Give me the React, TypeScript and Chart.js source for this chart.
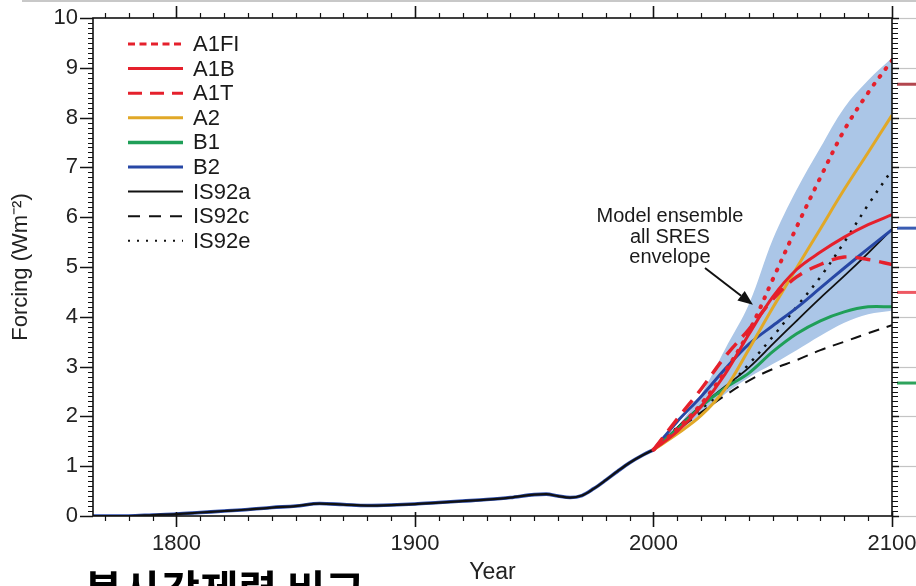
import React, { useEffect, useRef } from "react";
import { Chart, registerables } from "chart.js";

Chart.register(...registerables);

// ---------- data ----------
const histYears = [1765, 1780, 1790, 1800, 1810, 1820, 1830, 1840, 1850, 1860, 1870, 1880, 1890, 1900, 1910, 1920, 1930, 1940, 1950, 1955, 1960, 1965, 1970, 1975, 1980, 1985, 1990, 1995, 2000];
const histValues = [0.0, 0.0, 0.02, 0.04, 0.07, 0.1, 0.13, 0.17, 0.2, 0.25, 0.23, 0.21, 0.22, 0.24, 0.27, 0.3, 0.33, 0.37, 0.43, 0.44, 0.4, 0.37, 0.41, 0.55, 0.72, 0.9, 1.07, 1.21, 1.33];

const futureYears = [2000, 2010, 2020, 2030, 2040, 2050, 2060, 2070, 2080, 2090, 2100];
const a1fi = [1.33, 1.75, 2.25, 2.9, 3.7, 4.75, 5.8, 6.8, 7.75, 8.5, 9.15];
const a1b = [1.33, 1.7, 2.2, 2.85, 3.65, 4.4, 4.95, 5.3, 5.6, 5.85, 6.05];
const a1t = [1.33, 1.95, 2.55, 3.2, 3.75, 4.35, 4.8, 5.05, 5.2, 5.15, 5.05];
const a2 = [1.33, 1.65, 2.02, 2.55, 3.35, 4.18, 4.98, 5.77, 6.56, 7.3, 8.05];
const b1 = [1.33, 1.75, 2.2, 2.57, 2.87, 3.3, 3.66, 3.92, 4.1, 4.2, 4.2];
const b2 = [1.33, 1.9, 2.4, 2.95, 3.45, 3.82, 4.18, 4.58, 4.98, 5.37, 5.75];
const is92a = [1.33, 1.78, 2.22, 2.6, 2.98, 3.45, 3.92, 4.38, 4.82, 5.28, 5.76];
const is92c = [1.33, 1.72, 2.08, 2.42, 2.72, 2.95, 3.13, 3.33, 3.5, 3.67, 3.83];
const is92e = [1.33, 1.78, 2.15, 2.55, 3.05, 3.6, 4.2, 4.8, 5.5, 6.25, 6.95];
const envelopeUpper = [1.33, 1.8, 2.45, 3.35, 4.25, 5.55, 6.55, 7.4, 8.2, 8.75, 9.2];
const envelopeLower = [1.33, 1.68, 2.05, 2.45, 2.78, 3.05, 3.33, 3.62, 3.88, 4.05, 4.12];

const seriesNames = ["A1FI", "A1B", "A1T", "A2", "B1", "B2", "IS92a", "IS92c", "IS92e"];
const seriesValues = [a1fi, a1b, a1t, a2, b1, b2, is92a, is92c, is92e];

const xTickValues = [1800, 1900, 2000, 2100];
const xMin = 1765;
const xMax = 2100;
const yMin = 0;
const yMax = 10;

// marks on the right edge (from neighbouring panel)
const rightMarkValues = [8.67, 5.78, 4.49, 2.67];
const rightMarkColors = ["#b2464e", "#3a5cb2", "#ee5862", "#2ea35c"];

const annotationLines = ["Model ensemble", "all SRES", "envelope"];
const annotationAnchor = { x: 2006.9, y: 5.9 };
const arrowFrom = { x: 2021.6, y: 4.98 };
const arrowTo = { x: 2041.7, y: 4.24 };

// ---------- styles ----------
const RED = "#e5202c";
const styles: Record<string, { color: string; width: number; dash: number[]; cap: string; legendDash: number[]; legendWidth: number }> = {
  A1FI: { color: RED, width: 4, dash: [1, 9], cap: "round", legendDash: [7, 4.5], legendWidth: 3 },
  A1B: { color: RED, width: 3, dash: [], cap: "butt", legendDash: [], legendWidth: 3 },
  A1T: { color: RED, width: 3.5, dash: [15, 9], cap: "butt", legendDash: [14, 8], legendWidth: 3 },
  A2: { color: "#e1a827", width: 3, dash: [], cap: "butt", legendDash: [], legendWidth: 3 },
  B1: { color: "#1f9f58", width: 3, dash: [], cap: "butt", legendDash: [], legendWidth: 3.5 },
  B2: { color: "#2747a5", width: 3, dash: [], cap: "butt", legendDash: [], legendWidth: 3 },
  IS92a: { color: "#111111", width: 1.8, dash: [], cap: "butt", legendDash: [], legendWidth: 2 },
  IS92c: { color: "#111111", width: 2, dash: [11, 8], cap: "butt", legendDash: [12, 9], legendWidth: 2 },
  IS92e: { color: "#111111", width: 2.5, dash: [2.5, 7], cap: "butt", legendDash: [2, 7], legendWidth: 2 },
};
const ENVELOPE = "#abc6e7";
const FONT = "'Liberation Sans', Arial, Helvetica, sans-serif";
const TENSION = 0.35;

const pts = (xs: number[], ys: number[]) => xs.map((x, i) => ({ x, y: ys[i] }));

const framePlugin = {
  id: "frame",
  afterDatasetsDraw(chart: any) {
    const { ctx, chartArea, scales } = chart;
    const { left, right, top, bottom } = chartArea;
    const x = scales.x;
    const y = scales.y;
    const line = (x1: number, y1: number, x2: number, y2: number) => {
      ctx.beginPath();
      ctx.moveTo(x1, y1);
      ctx.lineTo(x2, y2);
      ctx.stroke();
    };
    ctx.save();
    ctx.setLineDash([]);
    rightMarkValues.forEach((v, i) => {
      ctx.strokeStyle = rightMarkColors[i];
      ctx.lineWidth = 3;
      const py = y.getPixelForValue(v);
      line(right + 5, py, chart.width, py);
    });
    ctx.strokeStyle = "#111";
    ctx.lineWidth = 1.6;
    ctx.strokeRect(left, top, right - left, bottom - top);
    for (let yr = 1770; yr <= xMax; yr += 10) {
      const px = Math.round(x.getPixelForValue(yr)) + 0.5;
      const major = yr % 100 === 0;
      ctx.lineWidth = major ? 1.6 : 1.2;
      line(px, bottom - (major ? 4 : 0), px, bottom + (major ? 11 : 5));
      line(px, top, px, top - (major ? 12 : 5));
    }
    for (let i = 0; i <= 100; i++) {
      const v = i / 10;
      const py = Math.round(y.getPixelForValue(v)) + 0.5;
      const major = i % 10 === 0;
      ctx.strokeStyle = "#111";
      ctx.lineWidth = major ? 1.5 : 1;
      line(left - (major ? 13 : 5), py, left, py);
      line(right, py, right + (major ? 7 : 6), py);
      if (major) {
        ctx.strokeStyle = "#c4c4c4";
        ctx.lineWidth = 1.2;
        line(right + 7, py, chart.width, py);
      }
    }
    ctx.restore();
  },
};

const overlayPlugin = {
  id: "overlay",
  afterDraw(chart: any) {
    const { ctx, chartArea, scales } = chart;
    const { left, top } = chartArea;
    const x = scales.x;
    const y = scales.y;
    ctx.save();
    seriesNames.forEach((name, i) => {
      const st = styles[name];
      const ry = top + 26 + i * 24.6;
      ctx.strokeStyle = st.color;
      ctx.lineWidth = st.legendWidth;
      ctx.setLineDash(st.legendDash);
      ctx.beginPath();
      ctx.moveTo(left + 35, ry);
      ctx.lineTo(left + 90, ry);
      ctx.stroke();
      ctx.setLineDash([]);
      ctx.fillStyle = "#1a1a1a";
      ctx.font = `22px ${FONT}`;
      ctx.textAlign = "left";
      ctx.textBaseline = "middle";
      ctx.fillText(name, left + 100, ry + 1);
    });
    ctx.font = `20px ${FONT}`;
    ctx.fillStyle = "#1a1a1a";
    ctx.textAlign = "center";
    ctx.textBaseline = "alphabetic";
    const ax = x.getPixelForValue(annotationAnchor.x);
    const ay = y.getPixelForValue(annotationAnchor.y);
    annotationLines.forEach((t, i) => ctx.fillText(t, ax, ay + i * 20.5));
    const x1 = x.getPixelForValue(arrowFrom.x);
    const y1 = y.getPixelForValue(arrowFrom.y);
    const x2 = x.getPixelForValue(arrowTo.x);
    const y2 = y.getPixelForValue(arrowTo.y);
    const ang = Math.atan2(y2 - y1, x2 - x1);
    const hl = 15;
    const hw = 6;
    const bx = x2 - hl * Math.cos(ang);
    const by = y2 - hl * Math.sin(ang);
    ctx.strokeStyle = "#111";
    ctx.lineWidth = 2;
    ctx.beginPath();
    ctx.moveTo(x1, y1);
    ctx.lineTo(bx, by);
    ctx.stroke();
    ctx.fillStyle = "#111";
    ctx.beginPath();
    ctx.moveTo(x2, y2);
    ctx.lineTo(bx + hw * Math.sin(ang), by - hw * Math.cos(ang));
    ctx.lineTo(bx - hw * Math.sin(ang), by + hw * Math.cos(ang));
    ctx.closePath();
    ctx.fill();
    ctx.restore();
  },
};

export default function App() {
  const ref = useRef<HTMLCanvasElement | null>(null);

  useEffect(() => {
    if (!ref.current) return;
    const scenarioSets = seriesNames.map((name, i) => {
      const st = styles[name];
      return {
        label: name,
        data: pts(futureYears, seriesValues[i]),
        borderColor: st.color,
        borderWidth: st.width,
        borderDash: st.dash,
        borderCapStyle: st.cap,
        pointRadius: 0,
        fill: false,
        tension: TENSION,
      };
    });
    const datasets: any[] = [
      ...scenarioSets,
      {
        label: "hist",
        data: pts(histYears, histValues),
        borderColor: "#111",
        borderWidth: 2.2,
        pointRadius: 0,
        fill: false,
        cubicInterpolationMode: "monotone",
      },
      {
        label: "histBlue",
        data: pts(histYears, histValues),
        borderColor: "#2f4fb0",
        borderWidth: 3.6,
        pointRadius: 0,
        fill: false,
        cubicInterpolationMode: "monotone",
      },
    ];
    const upperIndex = datasets.length;
    datasets.push({
      label: "envUpper",
      data: pts(futureYears, envelopeUpper),
      borderWidth: 0,
      borderColor: "rgba(0,0,0,0)",
      backgroundColor: ENVELOPE,
      pointRadius: 0,
      fill: upperIndex + 1,
      tension: TENSION,
    });
    datasets.push({
      label: "envLower",
      data: pts(futureYears, envelopeLower),
      borderWidth: 0,
      borderColor: "rgba(0,0,0,0)",
      pointRadius: 0,
      fill: false,
      tension: TENSION,
    });

    const chart = new Chart(ref.current, {
      type: "line",
      data: { datasets },
      options: {
        animation: false,
        responsive: false,
        events: [],
        layout: { padding: { top: 18, right: 24, bottom: 0, left: 0 } },
        plugins: {
          legend: { display: false },
          tooltip: { enabled: false },
        },
        scales: {
          x: {
            type: "linear",
            min: xMin,
            max: xMax,
            afterBuildTicks: (s: any) => {
              s.ticks = xTickValues.map((v) => ({ value: v }));
            },
            afterFit: (s: any) => {
              s.height = 70;
              s.paddingLeft = 0;
              s.paddingRight = 0;
            },
            grid: { display: false, drawTicks: false },
            border: { display: false },
            ticks: {
              font: { family: FONT, size: 22 },
              color: "#222",
              padding: 15,
              maxRotation: 0,
              autoSkip: false,
              callback: (v: any) => String(v),
            },
            title: {
              display: true,
              text: "Year",
              font: { family: FONT, size: 23 },
              color: "#222",
              padding: { top: 0, bottom: 0 },
            },
          },
          y: {
            min: yMin,
            max: yMax,
            afterFit: (s: any) => {
              s.width = 93;
              s.paddingTop = 0;
              s.paddingBottom = 0;
            },
            grid: { display: false, drawTicks: false },
            border: { display: false },
            ticks: {
              stepSize: 1,
              font: { family: FONT, size: 22 },
              color: "#222",
              padding: 15,
            },
            title: {
              display: true,
              text: "Forcing (Wm\u207B\u00B2)",
              font: { family: FONT, size: 22 },
              color: "#222",
              padding: { top: 8, bottom: 0 },
            },
          },
        },
      },
      plugins: [framePlugin, overlayPlugin],
    });
    return () => chart.destroy();
  }, []);

  return (
    <div
      style={{
        position: "fixed",
        left: 0,
        top: 0,
        width: 916,
        height: 586,
        overflow: "hidden",
        background: "#fff",
      }}
    >
      <canvas ref={ref} width={916} height={586} style={{ display: "block", position: "absolute", left: 0, top: 0 }} />
      <div style={{ position: "absolute", left: 22, top: 0, width: 894, height: 2, background: "#c8c8c8" }} />
      <div
        style={{
          position: "absolute",
          left: 84,
          top: 567,
          fontFamily: "'Noto Sans CJK KR', sans-serif",
          fontWeight: 700,
          fontSize: 42,
          lineHeight: 1,
          whiteSpace: "nowrap",
          color: "#000",
        }}
      >
        복사강제력 비교
      </div>
    </div>
  );
}
